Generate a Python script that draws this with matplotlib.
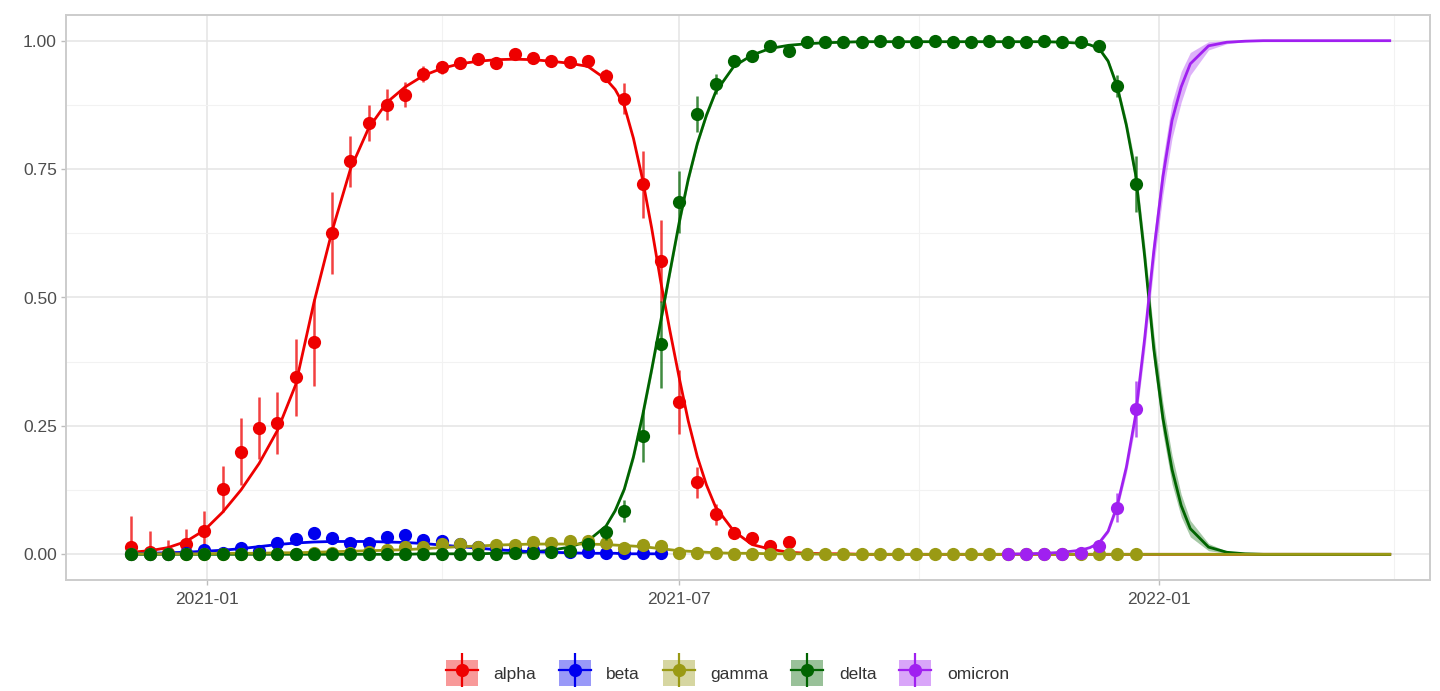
import matplotlib
matplotlib.use("Agg")
import matplotlib.pyplot as plt
import matplotlib.dates as mdates
from matplotlib.patches import Patch
from matplotlib.lines import Line2D
from matplotlib.legend_handler import HandlerTuple
import numpy as np

nan = np.nan

# first weekly sample
start_date = np.datetime64("2020-12-03")

variants = ["alpha", "beta", "gamma", "delta", "omicron"]
colors = {
    "alpha": "#EE0000",
    "beta": "#0000EE",
    "gamma": "#9A9A14",
    "delta": "#006400",
    "omicron": "#A020F0",
}

# observed weekly proportions (first week index, values, half-width of interval)
alpha_first = 0
alpha_pts = [0.015, 0.005, 0.003, 0.02, 0.045, 0.127, 0.2, 0.246, 0.256, 0.345,
             0.413, 0.625, 0.765, 0.84, 0.875, 0.895, 0.935, 0.948, 0.957, 0.965,
             0.957, 0.974, 0.967, 0.961, 0.959, 0.961, 0.932, 0.887, 0.72, 0.571,
             0.296, 0.14, 0.078, 0.042, 0.032, 0.017, 0.024]
alpha_err = [0.06, 0.04, 0.025, 0.03, 0.04, 0.045, 0.065, 0.06, 0.06, 0.075,
             0.085, 0.08, 0.05, 0.035, 0.03, 0.025, 0.015, 0.012, 0.01, 0.008,
             0.008, 0.008, 0.008, 0.008, 0.008, 0.008, 0.012, 0.03, 0.065, 0.08,
             0.062, 0.03, 0.02, 0.012, 0.01, 0.008, 0.01]

beta_first = 0
beta_pts = [0.0, 0.0, 0.0, 0.003, 0.008, 0.002, 0.013, 0.006, 0.023, 0.029,
            0.042, 0.032, 0.023, 0.023, 0.033, 0.037, 0.027, 0.025, 0.02, 0.015,
            0.012, 0.01, 0.008, 0.006, 0.005, 0.004, 0.003, 0.003, 0.003, 0.003]
beta_err = [0.002, 0.002, 0.002, 0.003, 0.004, 0.003, 0.005, 0.004, 0.006, 0.007,
            0.008, 0.007, 0.006, 0.006, 0.007, 0.007, 0.006, 0.006, 0.005, 0.004,
            0.004, 0.003, 0.003, 0.003, 0.002, 0.002, 0.002, 0.002, 0.002, 0.002]

gamma_first = 0
gamma_pts = [0.0, 0.0, 0.0, 0.0, 0.0, 0.0, 0.001, 0.0, 0.001, 0.001,
             0.002, 0.002, 0.003, 0.005, 0.008, 0.015, 0.015, 0.02, 0.02, 0.015,
             0.018, 0.018, 0.024, 0.022, 0.026, 0.025, 0.022, 0.013, 0.019, 0.016,
             0.003, 0.002, 0.002, 0.001, 0.001, 0.001, 0.001, 0.0, 0.0, 0.0,
             0.0, 0.0, 0.0, 0.0, 0.0, 0.0, 0.0, 0.0, 0.0, 0.0,
             0.0, 0.0, 0.0, 0.0, 0.0, 0.0]
gamma_err = [0.001, 0.001, 0.001, 0.001, 0.001, 0.001, 0.001, 0.001, 0.001, 0.001,
             0.002, 0.002, 0.002, 0.003, 0.004, 0.005, 0.005, 0.005, 0.005, 0.005,
             0.005, 0.005, 0.005, 0.005, 0.005, 0.005, 0.005, 0.004, 0.004, 0.004,
             0.002, 0.001, 0.001, 0.001, 0.001, 0.001, 0.001, 0.001, 0.001, 0.001,
             0.001, 0.001, 0.001, 0.001, 0.001, 0.001, 0.001, 0.001, 0.001, 0.001,
             0.001, 0.001, 0.001, 0.001, 0.001, 0.001]

delta_first = 0
delta_pts = [0.0, 0.0, 0.0, 0.0, 0.0, 0.0, 0.0, 0.0, 0.0, 0.0,
             0.0, 0.0, 0.0, 0.0, 0.0, 0.0, 0.0, 0.001, 0.0, 0.001,
             0.001, 0.002, 0.002, 0.004, 0.006, 0.02, 0.043, 0.084, 0.23, 0.409,
             0.686, 0.857, 0.916, 0.961, 0.971, 0.99, 0.98, 0.998, 0.997, 0.998,
             0.998, 0.999, 0.998, 0.998, 0.999, 0.998, 0.998, 0.999, 0.998, 0.998,
             0.999, 0.998, 0.998, 0.99, 0.912, 0.721]
delta_err = [0.001, 0.001, 0.001, 0.001, 0.001, 0.001, 0.001, 0.001, 0.001, 0.001,
             0.001, 0.001, 0.001, 0.001, 0.001, 0.001, 0.001, 0.001, 0.001, 0.001,
             0.002, 0.002, 0.002, 0.003, 0.004, 0.008, 0.015, 0.022, 0.05, 0.085,
             0.06, 0.035, 0.02, 0.01, 0.008, 0.005, 0.006, 0.003, 0.002, 0.002,
             0.002, 0.002, 0.002, 0.002, 0.002, 0.002, 0.002, 0.002, 0.002, 0.002,
             0.002, 0.002, 0.002, 0.008, 0.022, 0.055]

omicron_first = 48
omicron_pts = [0.001, 0.001, 0.001, 0.001, 0.003, 0.016, 0.091, 0.283]
omicron_err = [0.001, 0.001, 0.001, 0.002, 0.003, 0.007, 0.028, 0.055]

# fitted curves, in weeks after start_date (half weeks where the curves are steep)
fit_weeks = [0, 1, 2, 3, 4, 5, 6, 7, 8, 9, 10, 11, 12, 13, 14, 15, 16, 17, 18, 19,
             20, 21, 22, 23, 24, 25, 26,
             26.5, 27, 27.5, 28, 28.5, 29, 29.5, 30, 30.5, 31, 31.5, 32,
             33, 34, 35, 36, 37, 38, 39, 40, 41, 42, 43, 44, 45, 46, 47, 48, 49, 50, 51, 52,
             52.5, 53, 53.5, 54, 54.5, 55, 55.5, 56, 56.5, 57, 57.5, 58,
             59, 60, 61, 62, 63, 64, 65, 66, 67, 68, 69]

alpha_fit = [0.004, 0.007, 0.013, 0.025, 0.047, 0.082, 0.125, 0.177, 0.241, 0.33,
             0.49, 0.63, 0.75, 0.83, 0.88, 0.91, 0.932, 0.946, 0.955, 0.96,
             0.963, 0.964, 0.963, 0.96, 0.956, 0.95, 0.925,
             0.905, 0.873, 0.81, 0.73, 0.635, 0.53, 0.435, 0.345, 0.26, 0.19, 0.135, 0.092,
             0.045, 0.019, 0.01, 0.004, 0.002, 0.001, 0.001, 0.0, 0.0, 0.0,
             0.0, 0.0, 0.0, 0.0, 0.0, 0.0, 0.0, 0.0, 0.0, 0.0,
             0.0, 0.0, 0.0, 0.0, 0.0, 0.0, 0.0, 0.0, 0.0, 0.0, 0.0, 0.0,
             0.0, 0.0, 0.0, 0.0, 0.0, 0.0, 0.0, 0.0, 0.0, 0.0, 0.0]

beta_fit = [0.001, 0.002, 0.003, 0.004, 0.006, 0.008, 0.011, 0.015, 0.019, 0.022,
            0.024, 0.025, 0.025, 0.025, 0.024, 0.023, 0.021, 0.018, 0.015, 0.012,
            0.009, 0.007, 0.005, 0.004, 0.003, 0.002, 0.002,
            0.002, 0.001, 0.001, 0.001, 0.001, 0.001, nan, nan, nan, nan, nan, nan,
            nan, nan, nan, nan, nan, nan, nan, nan, nan, nan,
            nan, nan, nan, nan, nan, nan, nan, nan, nan, nan,
            nan, nan, nan, nan, nan, nan, nan, nan, nan, nan, nan, nan,
            nan, nan, nan, nan, nan, nan, nan, nan, nan, nan, nan]

gamma_fit = [0.001, 0.001, 0.001, 0.001, 0.001, 0.002, 0.002, 0.002, 0.003, 0.003,
             0.004, 0.005, 0.006, 0.007, 0.008, 0.009, 0.011, 0.013, 0.015, 0.016,
             0.018, 0.019, 0.02, 0.02, 0.02, 0.02, 0.019,
             0.018, 0.017, 0.016, 0.015, 0.013, 0.011, 0.009, 0.007, 0.006, 0.005, 0.004, 0.003,
             0.002, 0.002, 0.001, 0.001, 0.001, 0.0, 0.0, 0.0, 0.0, 0.0,
             0.0, 0.0, 0.0, 0.0, 0.0, 0.0, 0.0, 0.0, 0.0, 0.0,
             0.0, 0.0, 0.0, 0.0, 0.0, 0.0, 0.0, 0.0, 0.0, 0.0, 0.0, 0.0,
             0.0, 0.0, 0.0, 0.0, 0.0, 0.0, 0.0, 0.0, 0.0, 0.0, 0.0]

delta_fit = [0.0, 0.0, 0.0, 0.0, 0.0, 0.0, 0.0, 0.0, 0.0, 0.0,
             0.0, 0.0, 0.0, 0.0, 0.0, 0.0, 0.001, 0.001, 0.001, 0.001,
             0.002, 0.003, 0.005, 0.008, 0.014, 0.026, 0.055,
             0.085, 0.127, 0.19, 0.27, 0.36, 0.455, 0.55, 0.645, 0.73, 0.80, 0.855, 0.90,
             0.95, 0.972, 0.985, 0.991, 0.994, 0.996, 0.997, 0.998, 0.998, 0.998,
             0.998, 0.998, 0.998, 0.998, 0.998, 0.998, 0.998, 0.998, 0.997, 0.995,
             0.992, 0.985, 0.96, 0.91, 0.835, 0.74, 0.58, 0.40, 0.265, 0.165, 0.095, 0.05,
             0.014, 0.004, 0.001, 0.0, 0.0, 0.0, 0.0, 0.0, 0.0, 0.0, 0.0]

omicron_fit = [nan, nan, nan, nan, nan, nan, nan, nan, nan, nan,
               nan, nan, nan, nan, nan, nan, nan, nan, nan, nan,
               nan, nan, nan, nan, nan, nan, nan,
               nan, nan, nan, nan, nan, nan, nan, nan, nan, nan, nan, nan,
               nan, nan, nan, nan, nan, nan, nan, nan, nan, nan,
               nan, nan, nan, nan, nan, 0.0005, 0.001, 0.002, 0.004, 0.008,
               0.013, 0.022, 0.045, 0.095, 0.17, 0.27, 0.42, 0.59, 0.735, 0.845, 0.91, 0.955,
               0.99, 0.997, 0.999, 1.0, 1.0, 1.0, 1.0, 1.0, 1.0, 1.0, 1.0]

# half-width of the confidence ribbons around the fits
delta_band = [0.0, 0.0, 0.0, 0.0, 0.0, 0.0, 0.0, 0.0, 0.0, 0.0,
              0.0, 0.0, 0.0, 0.0, 0.0, 0.0, 0.0, 0.0, 0.0, 0.0,
              0.0, 0.0, 0.0, 0.0, 0.0, 0.0, 0.0,
              0.003, 0.005, 0.008, 0.01, 0.01, 0.01, 0.01, 0.01, 0.008, 0.006, 0.005, 0.004,
              0.0, 0.0, 0.0, 0.0, 0.0, 0.0, 0.0, 0.0, 0.0, 0.0,
              0.0, 0.0, 0.0, 0.0, 0.0, 0.0, 0.0, 0.0, 0.0, 0.0,
              0.002, 0.003, 0.005, 0.008, 0.012, 0.018, 0.025, 0.03, 0.03, 0.028, 0.022, 0.016,
              0.007, 0.002, 0.001, 0.0, 0.0, 0.0, 0.0, 0.0, 0.0, 0.0, 0.0]

omicron_band = [0.0, 0.0, 0.0, 0.0, 0.0, 0.0, 0.0, 0.0, 0.0, 0.0,
                0.0, 0.0, 0.0, 0.0, 0.0, 0.0, 0.0, 0.0, 0.0, 0.0,
                0.0, 0.0, 0.0, 0.0, 0.0, 0.0, 0.0,
                0.0, 0.0, 0.0, 0.0, 0.0, 0.0, 0.0, 0.0, 0.0, 0.0, 0.0, 0.0,
                0.0, 0.0, 0.0, 0.0, 0.0, 0.0, 0.0, 0.0, 0.0, 0.0,
                0.0, 0.0, 0.0, 0.0, 0.0, 0.0, 0.0, 0.0, 0.0, 0.0,
                0.001, 0.002, 0.004, 0.008, 0.012, 0.018, 0.025, 0.03, 0.035, 0.035, 0.03, 0.022,
                0.008, 0.003, 0.001, 0.0, 0.0, 0.0, 0.0, 0.0, 0.0, 0.0, 0.0]

points = {
    "alpha": (alpha_first, alpha_pts, alpha_err),
    "beta": (beta_first, beta_pts, beta_err),
    "gamma": (gamma_first, gamma_pts, gamma_err),
    "delta": (delta_first, delta_pts, delta_err),
    "omicron": (omicron_first, omicron_pts, omicron_err),
}
fits = {
    "alpha": alpha_fit,
    "beta": beta_fit,
    "gamma": gamma_fit,
    "delta": delta_fit,
    "omicron": omicron_fit,
}
bands = {"delta": delta_band, "omicron": omicron_band}

x_ticks = ["2021-01-01", "2021-07-01", "2022-01-01"]
x_tick_labels = ["2021-01", "2021-07", "2022-01"]
x_minor = ["2021-04-01", "2021-10-01", "2022-04-01"]
y_ticks = [0.0, 0.25, 0.5, 0.75, 1.0]
y_tick_labels = ["0.00", "0.25", "0.50", "0.75", "1.00"]

plt.rcParams["font.family"] = ["Liberation Sans", "DejaVu Sans"]

fig = plt.figure(figsize=(14.4, 6.91), dpi=100)
fig.subplots_adjust(left=66 / 1440, right=1430 / 1440, top=1 - 15 / 691, bottom=1 - 580 / 691)
ax = fig.add_subplot(111)

base = mdates.date2num(start_date)
fit_x = base + 7 * np.array(fit_weeks, dtype=float)

# ribbons
for v, band in bands.items():
    y = np.array(fits[v], dtype=float)
    b = np.array(band, dtype=float)
    ok = ~np.isnan(y)
    ax.fill_between(fit_x[ok], y[ok] - b[ok], y[ok] + b[ok], color=colors[v],
                    alpha=0.35, lw=0, zorder=2)

# fitted lines (gamma drawn late so the zero line reads olive)
for z, v in enumerate(["alpha", "delta", "beta", "gamma", "omicron"]):
    y = np.array(fits[v], dtype=float)
    ax.plot(fit_x, y, color=colors[v], lw=2.0, zorder=3 + z * 0.1,
            solid_capstyle="butt", solid_joinstyle="round")

# observed points with intervals
for z, v in enumerate(variants):
    first, vals, err = points[v]
    vals = np.array(vals, dtype=float)
    err = np.array(err, dtype=float)
    px = base + 7 * (first + np.arange(len(vals)))
    lo = np.clip(vals - err, 0, 1)
    hi = np.clip(vals + err, 0, 1)
    ax.vlines(px, lo, hi, color=colors[v], lw=1.8, alpha=0.75, zorder=4 + z * 0.2)
    ax.plot(px, vals, "o", color=colors[v], ms=9.5, mew=0, zorder=4.1 + z * 0.2)

# axes styling, ggplot-like
day0 = mdates.date2num(np.datetime64("2021-01-01"))
ax.set_xlim(day0 - 54.05, day0 + 468.9)
ax.set_ylim(-0.05, 1.05)

ax.set_xticks(mdates.date2num(np.array(x_ticks, dtype="datetime64[D]")))
ax.set_xticklabels(x_tick_labels)
ax.set_xticks(mdates.date2num(np.array(x_minor, dtype="datetime64[D]")), minor=True)
ax.set_yticks(y_ticks)
ax.set_yticklabels(y_tick_labels)
ax.set_yticks([0.125, 0.375, 0.625, 0.875], minor=True)

ax.grid(True, which="major", color="#E4E4E4", lw=1.1, zorder=0)
ax.grid(True, which="minor", color="#F2F2F2", lw=0.8, zorder=0)
ax.set_axisbelow(True)

ax.tick_params(axis="both", which="major", labelsize=12.5, labelcolor="#4D4D4D",
               color="#BDBDBD", length=3.5, width=1, pad=3)
ax.tick_params(axis="x", which="major", pad=5)
ax.tick_params(axis="both", which="minor", length=0)
for s in ax.spines.values():
    s.set_color("#CCCCCC")
    s.set_linewidth(1.4)

# legend at the bottom
handles = []
for v in variants:
    handles.append((
        Patch(facecolor=colors[v], alpha=0.4, edgecolor="none"),
        Line2D([], [], color=colors[v], lw=1.6),
        Line2D([], [], color=colors[v], marker="|", ms=24, mew=1.6, ls="none"),
        Line2D([], [], color=colors[v], marker="o", ms=9.5, mew=0, ls="none"),
    ))
fig.legend(handles, variants, loc="center", bbox_to_anchor=(0.505, 0.026), ncol=5,
           frameon=False, fontsize=12.5, labelcolor="#333333",
           handlelength=1.85, handleheight=1.85,
           handletextpad=0.9, columnspacing=1.3,
           handler_map={tuple: HandlerTuple(ndivide=1, pad=0)})

fig.savefig("out.png", dpi=100, facecolor="white")
